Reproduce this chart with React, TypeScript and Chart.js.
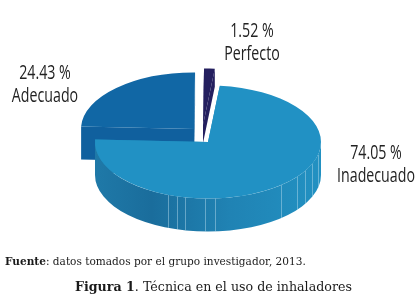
import React, { useEffect, useRef } from "react";
import { Chart, registerables } from "chart.js";

Chart.register(...registerables);

const categories = ["Inadecuado", "Adecuado", "Perfecto"];
const percentages = [74.05, 24.43, 1.52];
const percentLabels = ["74.05 %", "24.43 %", "1.52 %"];
const topColors = ["#2191c4", "#1167a5", "#241f5f"];
const wallColors = ["#1f86b6", "#10609e", "#241f5f"];
const sliceShiftX = [0, -14, -5];
const sliceShiftY = [-1, -14, -18];
const sliceDepth = [33, 33, 18];
const labelX = [376, 45, 252];
const labelY = [159, 79, 37];
const seamXs = [168, 177, 185, 205, 215, 281, 297, 305, 312, 318];
const FLATTEN = 0.5;
const LABEL_FONT = '20px "Open Sans", sans-serif';
const LABEL_SQUEEZE = 0.71;
const sourceText = ["Fuente", ": datos tomados por el grupo investigador, 2013."];
const captionText = ["Figura 1", ". Técnica en el uso de inhaladores"];

const pie3d = {
  id: "pie3d",
  beforeDatasetDraw(chart: any) {
    const ctx = chart.ctx as CanvasRenderingContext2D;
    const arcs = chart.getDatasetMeta(0).data as any[];
    [1, 2, 0].forEach((i) => {
      const el = arcs[i];
      const cx = el.x + sliceShiftX[i];
      const cy = el.y + sliceShiftY[i];
      const rx = el.outerRadius;
      const ry = rx * FLATTEN;
      const depth = sliceDepth[i];
      const s = el.startAngle;
      const e = el.endAngle;

      // cut faces
      ctx.fillStyle = wallColors[i];
      [s, e].forEach((a) => {
        const px = cx + rx * Math.cos(a);
        const py = cy + ry * Math.sin(a);
        ctx.beginPath();
        ctx.moveTo(cx, cy);
        ctx.lineTo(px, py);
        ctx.lineTo(px, py + depth);
        ctx.lineTo(cx, cy + depth);
        ctx.closePath();
        ctx.fill();
      });

      // outer wall, front half only
      const a0 = Math.max(s, 0);
      const a1 = Math.min(e, Math.PI);
      if (a1 > a0) {
        const g = ctx.createLinearGradient(cx - rx, 0, cx + rx, 0);
        g.addColorStop(0, "#1f79a8");
        g.addColorStop(0.25, "#1a6d9c");
        g.addColorStop(0.6, "#2083b4");
        g.addColorStop(1, "#2291c2");
        ctx.fillStyle = i === 0 ? g : wallColors[i];
        ctx.beginPath();
        ctx.ellipse(cx, cy, rx, ry, 0, a0, a1, false);
        ctx.ellipse(cx, cy + depth, rx, ry, 0, a1, a0, true);
        ctx.closePath();
        ctx.fill();
        if (i === 0) {
          ctx.strokeStyle = "rgba(190,225,240,0.45)";
          ctx.lineWidth = 1;
          seamXs.forEach((x) => {
            const t = (x - cx) / rx;
            const y = cy + ry * Math.sqrt(Math.max(0, 1 - t * t));
            ctx.beginPath();
            ctx.moveTo(x + 0.5, y);
            ctx.lineTo(x + 0.5, y + depth);
            ctx.stroke();
          });
        }
      }

      // top surface, the library's own arc
      ctx.save();
      ctx.translate(cx, cy);
      ctx.scale(1, FLATTEN);
      ctx.translate(-el.x, -el.y);
      el.draw(ctx);
      ctx.restore();
    });
    return false;
  },
  afterDatasetsDraw(chart: any) {
    const ctx = chart.ctx as CanvasRenderingContext2D;
    ctx.save();
    ctx.fillStyle = "#222222";
    ctx.textAlign = "center";
    ctx.textBaseline = "alphabetic";
    ctx.font = LABEL_FONT;
    categories.forEach((c, i) => {
      ctx.save();
      ctx.translate(labelX[i], labelY[i]);
      ctx.scale(LABEL_SQUEEZE, 1);
      ctx.fillText(percentLabels[i], 0, 0);
      ctx.fillText(c, 0, 23);
      ctx.restore();
    });
    ctx.textAlign = "left";
    ctx.fillStyle = "#1a1a1a";
    const run = (parts: string[], x: number, y: number, size: number) => {
      ctx.font = `bold ${size}px "DejaVu Serif", serif`;
      ctx.fillText(parts[0], x, y);
      const w = ctx.measureText(parts[0]).width;
      ctx.font = `${size}px "DejaVu Serif", serif`;
      ctx.fillText(parts[1], x + w, y);
    };
    run(sourceText, 5, 265, 10.55);
    run(captionText, 75, 291, 12.65);
    ctx.restore();
  },
};

export default function App() {
  const ref = useRef<HTMLCanvasElement>(null);
  useEffect(() => {
    document.body.style.margin = "0";
    const chart = new Chart(ref.current as HTMLCanvasElement, {
      type: "pie",
      data: {
        labels: categories,
        datasets: [
          {
            data: percentages,
            backgroundColor: topColors,
            borderWidth: 0,
          },
        ],
      },
      options: {
        animation: false,
        responsive: false,
        rotation: 6,
        layout: { padding: { left: 95, right: 96, top: 30, bottom: 46 } },
        plugins: { legend: { display: false }, tooltip: { enabled: false } },
      },
      plugins: [pie3d],
    } as any);
    return () => chart.destroy();
  }, []);
  return <canvas ref={ref} width={417} height={302} style={{ display: "block" }} />;
}
